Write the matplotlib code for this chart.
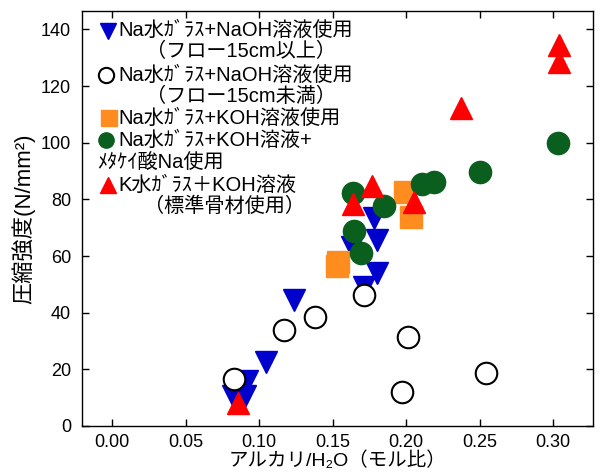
import matplotlib
matplotlib.use("Agg")
import matplotlib.pyplot as plt

plt.rcParams['font.family'] = ['Liberation Sans', 'Noto Sans CJK JP', 'DejaVu Sans']

# ---- data ----
blue_x = [0.0825, 0.0905, 0.0916, 0.105, 0.124, 0.163, 0.171, 0.178, 0.180, 0.180]
blue_y = [10.7, 10.7, 16.0, 22.7, 44.5, 63.3, 48.9, 73.3, 65.6, 53.9]

open_x = [0.083, 0.117, 0.138, 0.171, 0.197, 0.201, 0.254]
open_y = [16.5, 33.9, 38.6, 46.2, 12.1, 31.3, 18.6]

orange_x = [0.1528, 0.1537, 0.1995, 0.2034]
orange_y = [56.5, 58.0, 82.7, 73.9]

green_x = [0.1641, 0.1648, 0.169, 0.185, 0.211, 0.2186, 0.250, 0.303]
green_y = [82.1, 68.8, 60.9, 77.7, 85.4, 86.2, 89.8, 99.8]

red_x = [0.0859, 0.164, 0.177, 0.205, 0.237, 0.3037, 0.3037]
red_y = [8.1, 78.2, 84.6, 78.9, 112.1, 134.5, 128.6]

x_ticks = [0.00, 0.05, 0.10, 0.15, 0.20, 0.25, 0.30]
y_ticks = [0, 20, 40, 60, 80, 100, 120, 140]

legend_lines = [
    ("Na水ｶﾞﾗｽ+NaOH溶液使用", "（フロー15cm以上）"),
    ("Na水ｶﾞﾗｽ+NaOH溶液使用", "（フロー15cm未満）"),
    ("Na水ｶﾞﾗｽ+KOH溶液使用", None),
    ("Na水ｶﾞﾗｽ+KOH溶液+", "ﾒﾀｹｲ酸Na使用"),
    ("K水ｶﾞﾗｽ＋KOH溶液", "（標準骨材使用）"),
]

BLUE = '#0000CC'
ORANGE = '#FF8C1F'
GREEN = '#0A5F1E'
RED = '#FF0000'

fig = plt.figure(figsize=(6.0, 4.75), dpi=100)
ax = fig.add_axes([82/600, 49/475, 511/600, 415/475])

ms = 16
ax.plot(blue_x, blue_y, linestyle='none', marker='v', ms=ms, color=BLUE, mec=BLUE, zorder=3)
ax.plot(open_x, open_y, linestyle='none', marker='o', ms=15.5, mfc='white', mec='black', mew=1.5, zorder=4)
ax.plot(orange_x, orange_y, linestyle='none', marker='s', ms=16, color=ORANGE, mec=ORANGE, zorder=5)
ax.plot(green_x, green_y, linestyle='none', marker='o', ms=16, color=GREEN, mec=GREEN, zorder=6)
ax.plot(red_x, red_y, linestyle='none', marker='^', ms=ms, color=RED, mec=RED, zorder=7)

ax.set_xlim(-0.0204, 0.327)
ax.set_ylim(0, 146.5)
ax.set_xticks(x_ticks)
ax.set_xticklabels([f"{v:.2f}" for v in x_ticks])
ax.set_yticks(y_ticks)
ax.tick_params(direction='in', length=5, width=1, top=True, right=True, labelsize=13)
ax.tick_params(axis='x', pad=6)
ax.tick_params(axis='y', pad=8)
for s in ax.spines.values():
    s.set_linewidth(1.0)

ax.set_xlabel("アルカリ/H₂O（モル比）", fontsize=14, labelpad=0)
ax.set_ylabel("圧縮強度(N/mm²)", fontsize=16, labelpad=4)

# ---- legend drawn manually ----
def P(px, py):
    return ((px - 82) / 511.0, (426 - py) / 415.0)

marker_specs = [
    dict(marker='v', color=BLUE, mec=BLUE, ms=11, pos=(107.7, 30.7)),
    dict(marker='o', mfc='white', mec='black', mew=1.5, ms=11, pos=(106, 75)),
    dict(marker='s', color=ORANGE, mec=ORANGE, ms=11, pos=(109, 118.3)),
    dict(marker='o', color=GREEN, mec=GREEN, ms=11, pos=(106, 140)),
    dict(marker='^', color=RED, mec=RED, ms=12, pos=(108, 185)),
]
line_y = [(30.7, 51.7), (75, 96.7), (118.3, None), (140, 163.3), (185, 206.7)]
second_x = [146, 146, None, 97, 144]

for spec, (l1, l2), (y1, y2), x2 in zip(marker_specs, legend_lines, line_y, second_x):
    spec = dict(spec)
    pos = spec.pop('pos')
    ax.plot([P(*pos)[0]], [P(*pos)[1]], transform=ax.transAxes, linestyle='none',
            clip_on=False, zorder=10, **spec)
    tx, ty = P(118, y1)
    ax.text(tx, ty, l1, transform=ax.transAxes, fontsize=14.5, va='center', ha='left', zorder=10)
    if l2 is not None:
        tx, ty = P(x2, y2)
        ax.text(tx, ty, l2, transform=ax.transAxes, fontsize=14.5, va='center', ha='left', zorder=10)

fig.savefig("out.png", dpi=100)
